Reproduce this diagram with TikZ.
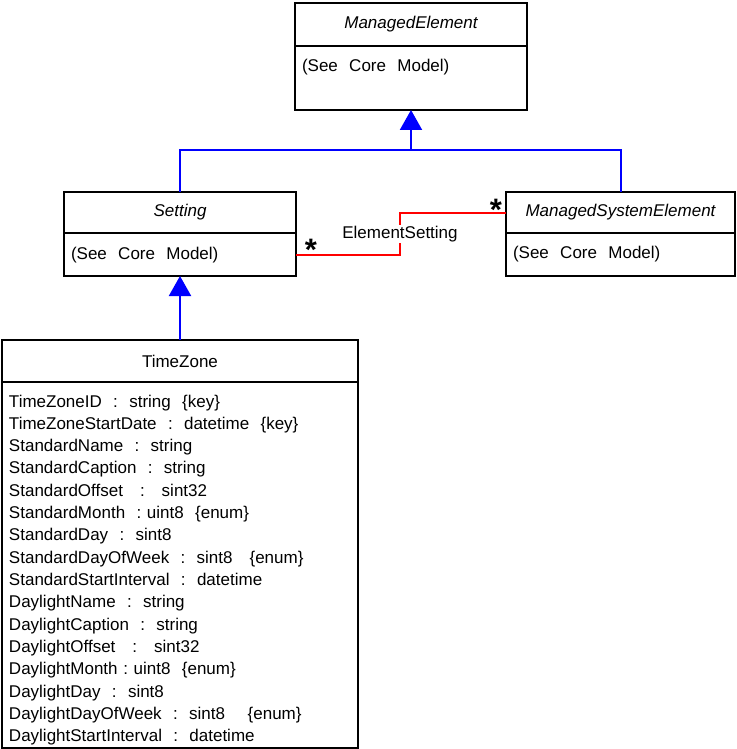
\documentclass[tikz,border=0pt]{standalone}
\usepackage{fontspec}
\setmainfont{Liberation Sans}
\usetikzlibrary{arrows.meta,positioning}
\begin{document}
\begin{tikzpicture}[x=1pt,y=-1pt,line width=2pt,font=\fontsize{17}{22.33}\selectfont,
        head/.style={draw,inner sep=0pt,outer sep=0pt},
        abstract/.style={head,font=\fontsize{17}{20}\selectfont\itshape},
        body/.style={draw,inner xsep=7pt,inner ysep=0pt,outer sep=0pt,align=left,text height=#1},
        inherit/.style={blue,line width=2pt},
        assoc/.style={red,line width=2pt},
        mult/.style={font=\fontsize{31}{31}\selectfont\bfseries,inner sep=0pt}]
    \useasboundingbox (0,0) rectangle (736,749);

    \node   [abstract,minimum width=232pt,minimum height=43pt]  (me)  at (411,24.5)   {ManagedElement};
    \node   [body=26pt,text width=218pt,text depth=38pt]  [below=0pt of me]    (mebody)  {(See~~Core~~Model)};

    \node   [abstract,minimum width=232pt,minimum height=41pt]  (set) at (180,212.5)  {Setting};
    \node   [body=26pt,text width=218pt,text depth=17pt]  [below=0pt of set]   (setbody) {(See~~Core~~Model)};

    \node   [abstract,minimum width=229pt,minimum height=41pt]  (mse) at (620.5,212.5) {ManagedSystemElement};
    \node   [body=25pt,text width=215pt,text depth=18pt]  [below=0pt of mse]   (msebody) {(See~~Core~~Model)};

    \node   [head,minimum width=356pt,minimum height=42pt]  (tz)  at (180,361)    {TimeZone};
    \node   [body=25pt,text width=342pt,text depth=341pt] [below=0pt of tz]    (tzbody)  {%
        TimeZoneID~~:~~string~~\{key\}\\
        TimeZoneStartDate~~:~~datetime~~\{key\}\\
        StandardName~~:~~string\\
        StandardCaption~~:~~string\\
        StandardOffset~~~:~~~sint32\\
        StandardMonth~~:~uint8~~\{enum\}\\
        StandardDay~~:~~sint8\\
        StandardDayOfWeek~~:~~sint8~~~\{enum\}\\
        StandardStartInterval~~:~~datetime\\
        DaylightName~~:~~string\\
        DaylightCaption~~:~~string\\
        DaylightOffset~~~:~~~sint32\\
        DaylightMonth~:~uint8~~\{enum\}\\
        DaylightDay~~:~~sint8\\
        DaylightDayOfWeek~~:~~sint8~~~~\{enum\}\\
        DaylightStartInterval~~:~~datetime};

    \coordinate (fork)  at (411,150);
    \coordinate (elbow) at (400,234);

    \draw   [inherit] (set.north) |- (fork) -| (mse.north);
    \draw   [inherit,-{Triangle[width=22pt,length=20pt]}] (fork) -- (mebody.south);
    \draw   [inherit,-{Triangle[width=22pt,length=20pt]}] (tz.north) -- (setbody.south);

    \draw   [assoc] (setbody.east) -| (elbow) |- (mse.west);
    \node   [fill=white,inner sep=1pt]  (esname)  at (elbow)  {ElementSetting};
    \node   [mult]  (setmult)  at (311,250)  {*};
    \node   [mult]  (msemult)  at (496,210)  {*};
\end{tikzpicture}
\end{document}
